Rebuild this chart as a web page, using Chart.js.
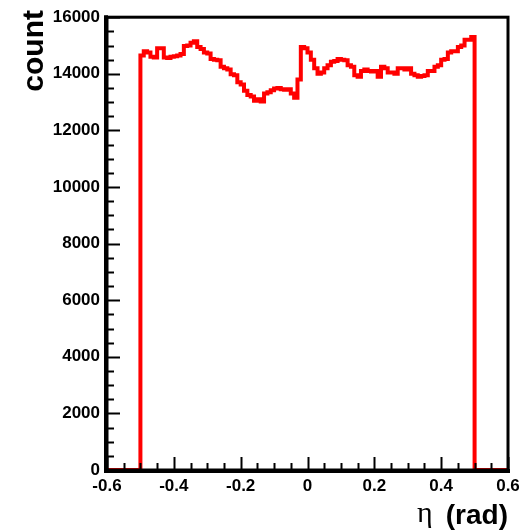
<!DOCTYPE html>
<html>
<head>
<meta charset="utf-8">
<script src="https://cdn.jsdelivr.net/npm/chart.js@4/dist/chart.umd.min.js"></script>
<style>
  html, body { margin: 0; padding: 0; background: #fff; }
  #wrap { width: 532px; height: 532px; }
</style>
</head>
<body>
<div id="wrap"><canvas id="c"></canvas></div>
<script>
// histogram: 100 bins of 0.01 between -0.5 and 0.5, empty outside
const histLow = -0.5;
const binWidth = 0.01;
const counts = [
  14650, 14800, 14750, 14600, 14580, 14900, 14900, 14580, 14560, 14600,
  14620, 14650, 14700, 14980, 15000, 15100, 15150, 14950, 14880, 14750,
  14720, 14520, 14500, 14480, 14250, 14200, 14150, 13980, 13950, 13700,
  13620, 13400, 13250, 13200, 13050, 13100, 13020, 13300, 13350, 13420,
  13480, 13500, 13450, 13440, 13450, 13300, 13150, 13800, 14950, 14900,
  14750, 14500, 14200, 14000, 14050, 14200, 14300, 14430, 14450, 14520,
  14500, 14480, 14300, 14250, 13950, 13900, 14100, 14150, 14100, 14080,
  14100, 13900, 14250, 14200, 14050, 14050, 14000, 14200, 14200, 14150,
  14200, 14000, 13950, 13900, 13920, 13950, 14100, 14100, 14250, 14300,
  14500, 14520, 14750, 14800, 14800, 14950, 15000, 15200, 15200, 15300
];
const xRange = [-0.6, 0.6];
const yRange = [0, 16000];
const xTickValues = [-0.6, -0.4, -0.2, 0, 0.2, 0.4, 0.6];
const xTickLabels = ['-0.6', '-0.4', '-0.2', '0', '0.2', '0.4', '0.6'];
const yTickValues = [0, 2000, 4000, 6000, 8000, 10000, 12000, 14000, 16000];
const yTickLabels = ['0', '2000', '4000', '6000', '8000', '10000', '12000', '14000', '16000'];

// left bin edges, stepped line draws each bin flat until next edge
const points = [{ x: xRange[0], y: 0 }];
counts.forEach((v, i) => points.push({ x: histLow + i * binWidth, y: v }));
points.push({ x: histLow + counts.length * binWidth, y: 0 });
points.push({ x: xRange[1], y: 0 });

const labelFont = { family: '"Liberation Sans", Arial, sans-serif', size: 17, weight: 'bold' };

// ROOT style: frame, inward ticks, axis titles
const rootFrame = {
    id: 'rootFrame',
    afterDraw(chart) {
        const { ctx, chartArea: a, scales } = chart;
        const xs = scales.x, ys = scales.y;
        ctx.save();
        ctx.strokeStyle = '#000';
        ctx.lineCap = 'square';

        ctx.lineWidth = 2;
        for (let k = 0; k <= 24; k++) {
            const v = xRange[0] + k * 0.05;
            const px = Math.round(xs.getPixelForValue(v)) + 0.5;
            const len = k % 4 === 0 ? 12 : 6;
            ctx.beginPath();
            ctx.moveTo(px, a.bottom);
            ctx.lineTo(px, a.bottom - len);
            ctx.stroke();
        }
        for (let k = 0; k <= 32; k++) {
            const v = k * 500;
            const py = Math.round(ys.getPixelForValue(v)) + 0.5;
            const len = k % 4 === 0 ? 12 : 6;
            ctx.beginPath();
            ctx.moveTo(a.left, py);
            ctx.lineTo(a.left + len, py);
            ctx.stroke();
        }

        ctx.lineWidth = 3;
        ctx.strokeRect(a.left, a.top, a.right - a.left, a.bottom - a.top);
        ctx.lineWidth = 4;
        ctx.beginPath();
        ctx.moveTo(a.left - 1, a.top);
        ctx.lineTo(a.left - 1, a.bottom + 1);
        ctx.lineTo(a.right, a.bottom + 1);
        ctx.stroke();

        ctx.fillStyle = '#000';
        // y title
        ctx.save();
        ctx.translate(43, 10);
        ctx.rotate(-Math.PI / 2);
        ctx.font = 'bold 30px "Liberation Sans", Arial, sans-serif';
        ctx.textAlign = 'right';
        ctx.textBaseline = 'alphabetic';
        ctx.fillText('count', 0, 0);
        ctx.restore();

        // x title
        ctx.textBaseline = 'alphabetic';
        ctx.textAlign = 'right';
        ctx.font = 'bold 28px "Liberation Sans", Arial, sans-serif';
        ctx.fillText('(rad)', a.right, 524);
        const w = ctx.measureText('(rad)').width;
        ctx.font = '30px "Liberation Serif", "Times New Roman", serif';
        ctx.fillText('η', a.right - w - 13, 522);
        ctx.restore();
    }
};

new Chart(document.getElementById('c'), {
    type: 'line',
    data: {
        datasets: [{
            data: points,
            stepped: true,
            borderColor: '#ff0000',
            borderWidth: 4,
            pointRadius: 0,
            fill: false,
            clip: false
        }]
    },
    options: {
        responsive: true,
        maintainAspectRatio: false,
        animation: false,
        events: [],
        layout: { padding: { top: 12, right: 24, left: 0, bottom: 0 } },
        plugins: { legend: { display: false }, tooltip: { enabled: false } },
        scales: {
            x: {
                type: 'linear',
                min: xRange[0],
                max: xRange[1],
                border: { display: false },
                grid: { display: false, drawTicks: false },
                afterBuildTicks: s => { s.ticks = xTickValues.map(v => ({ value: v })); },
                afterFit: s => { s.height = 62; },
                ticks: {
                    color: '#000',
                    font: labelFont,
                    padding: 6,
                    maxRotation: 0,
                    autoSkip: false,
                    callback: (v, i) => xTickLabels[i]
                }
            },
            y: {
                min: yRange[0],
                max: yRange[1],
                border: { display: false },
                grid: { display: false, drawTicks: false },
                afterBuildTicks: s => { s.ticks = yTickValues.map(v => ({ value: v })); },
                afterFit: s => { s.width = 107; },
                ticks: {
                    color: '#000',
                    font: labelFont,
                    padding: 7,
                    autoSkip: false,
                    callback: (v, i) => yTickLabels[i]
                }
            }
        }
    },
    plugins: [rootFrame]
});
</script>
</body>
</html>
